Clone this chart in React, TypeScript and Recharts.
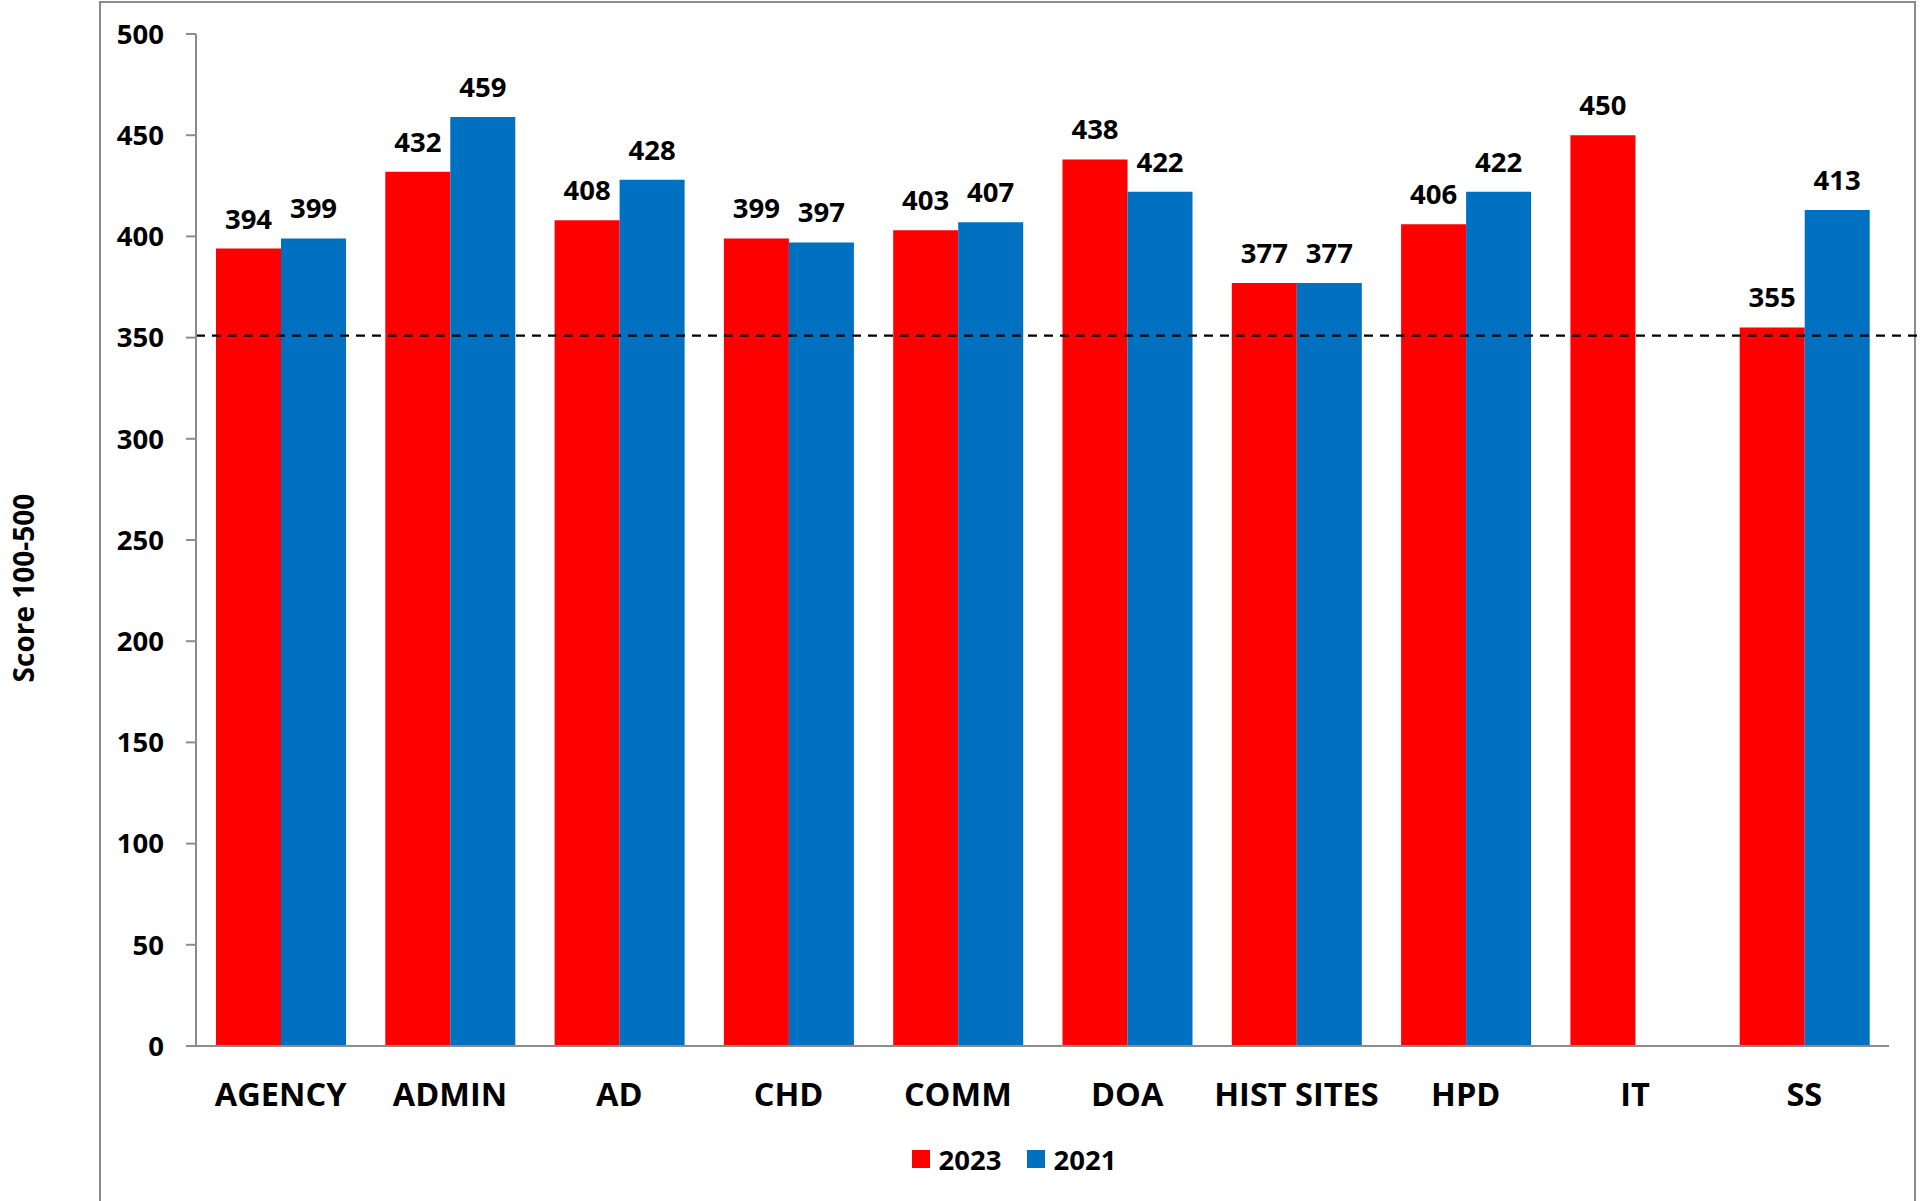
import {
  BarChart,
  Bar,
  XAxis,
  YAxis,
  Legend,
  LabelList,
  ReferenceLine,
} from 'recharts'

const categories = ['AGENCY', 'ADMIN', 'AD', 'CHD', 'COMM', 'DOA', 'HIST SITES', 'HPD', 'IT', 'SS']
const scores2023 = [394, 432, 408, 399, 403, 438, 377, 406, 450, 355]
const scores2021: (number | null)[] = [399, 459, 428, 397, 407, 422, 377, 422, null, 413]
const yTicks = [0, 50, 100, 150, 200, 250, 300, 350, 400, 450, 500]
const legendOrder = ['2023', '2021']
const benchmark = 351

const data = categories.map((name, i) => ({
  name,
  y2023: scores2023[i],
  y2021: scores2021[i],
}))

const FONT = '"Open Sans", sans-serif'
const AXIS_GRAY = '#8c8c8c'
const RED = '#FF0000'
const BLUE = '#0070C0'

/** Legend drawn as squares + bold year labels, in series order */
function renderLegend(props: any) {
  const items = [...(props.payload || [])].sort(
    (a: any, b: any) => legendOrder.indexOf(String(a.value)) - legendOrder.indexOf(String(b.value)),
  )
  return (
    <div style={{ display: 'flex', justifyContent: 'center', alignItems: 'center', height: 40 }}>
      {items.map((item: any, i: number) => (
        <span
          key={item.value}
          style={{ display: 'flex', alignItems: 'center', marginLeft: i === 0 ? 0 : 25 }}
        >
          <span style={{ width: 18, height: 18, background: item.color, display: 'inline-block', marginRight: 9 }} />
          <span style={{ fontFamily: FONT, fontWeight: 700, fontSize: 27.5, color: '#000' }}>{item.value}</span>
        </span>
      ))}
    </div>
  )
}

function YTitle(props: any) {
  const vb = props.viewBox || {}
  const cx = 22.5
  const cy = vb.y + vb.height / 2 + 48
  return (
    <text
      x={cx}
      y={cy}
      transform={`rotate(-90, ${cx}, ${cy})`}
      textAnchor="middle"
      dominantBaseline="central"
      style={{ fontFamily: FONT, fontWeight: 700, fontSize: 28 }}
      fill="#000"
    >
      Score 100-500
    </text>
  )
}

function DashedLine(props: any) {
  const { x1, y1, x2, y2 } = props
  return <line x1={x1} y1={y1} x2={x2 + 30} y2={y2} stroke="#000" strokeWidth={2.4} strokeDasharray="9 7" />
}

const labelFmt = (v: any) => (v == null ? '' : v)

export default function App() {
  return (
    <div style={{ position: 'absolute', left: 0, top: 0, width: 1925, height: 1201, background: '#fff', overflow: 'hidden' }}>
      <div
        style={{
          position: 'absolute',
          left: 99,
          top: 1,
          width: 1817,
          height: 1260,
          border: `2px solid ${AXIS_GRAY}`,
          boxSizing: 'border-box',
        }}
      />
      <div style={{ position: 'absolute', left: 0, top: 0 }}>
        <BarChart
          width={1925}
          height={1201}
          data={data}
          margin={{ top: 34, right: 36, bottom: 0, left: 0 }}
          barSize={65}
          barGap={0}
        >
          <XAxis
            dataKey="name"
            height={115}
            tickLine={false}
            tickSize={6}
            tickMargin={31}
            axisLine={{ stroke: AXIS_GRAY, strokeWidth: 2 }}
            tick={{ fontFamily: FONT, fontWeight: 700, fontSize: 32.5, fill: '#000' }}
            interval={0}
          />
          <YAxis
            width={196}
            domain={[0, 500]}
            ticks={yTicks}
            interval={0}
            tickSize={10}
            tickMargin={22}
            axisLine={{ stroke: AXIS_GRAY, strokeWidth: 2 }}
            tickLine={{ stroke: AXIS_GRAY, strokeWidth: 2 }}
            tick={{ fontFamily: FONT, fontWeight: 700, fontSize: 27.5, fill: '#000' }}
            label={<YTitle />}
          />
          <Legend
            verticalAlign="bottom"
            content={renderLegend}
            wrapperStyle={{ left: 98, width: 1832, bottom: 22, height: 40 }}
          />
          <Bar dataKey="y2023" name="2023" fill={RED} isAnimationActive={false}>
            <LabelList
              dataKey="y2023"
              position="top"
              offset={20}
              formatter={labelFmt}
              style={{ fontFamily: FONT, fontWeight: 700, fontSize: 27.5, fill: '#000' }}
            />
          </Bar>
          <Bar dataKey="y2021" name="2021" fill={BLUE} isAnimationActive={false}>
            <LabelList
              dataKey="y2021"
              position="top"
              offset={20}
              formatter={labelFmt}
              style={{ fontFamily: FONT, fontWeight: 700, fontSize: 27.5, fill: '#000' }}
            />
          </Bar>
          <ReferenceLine y={benchmark} shape={DashedLine} />
        </BarChart>
      </div>
    </div>
  )
}
